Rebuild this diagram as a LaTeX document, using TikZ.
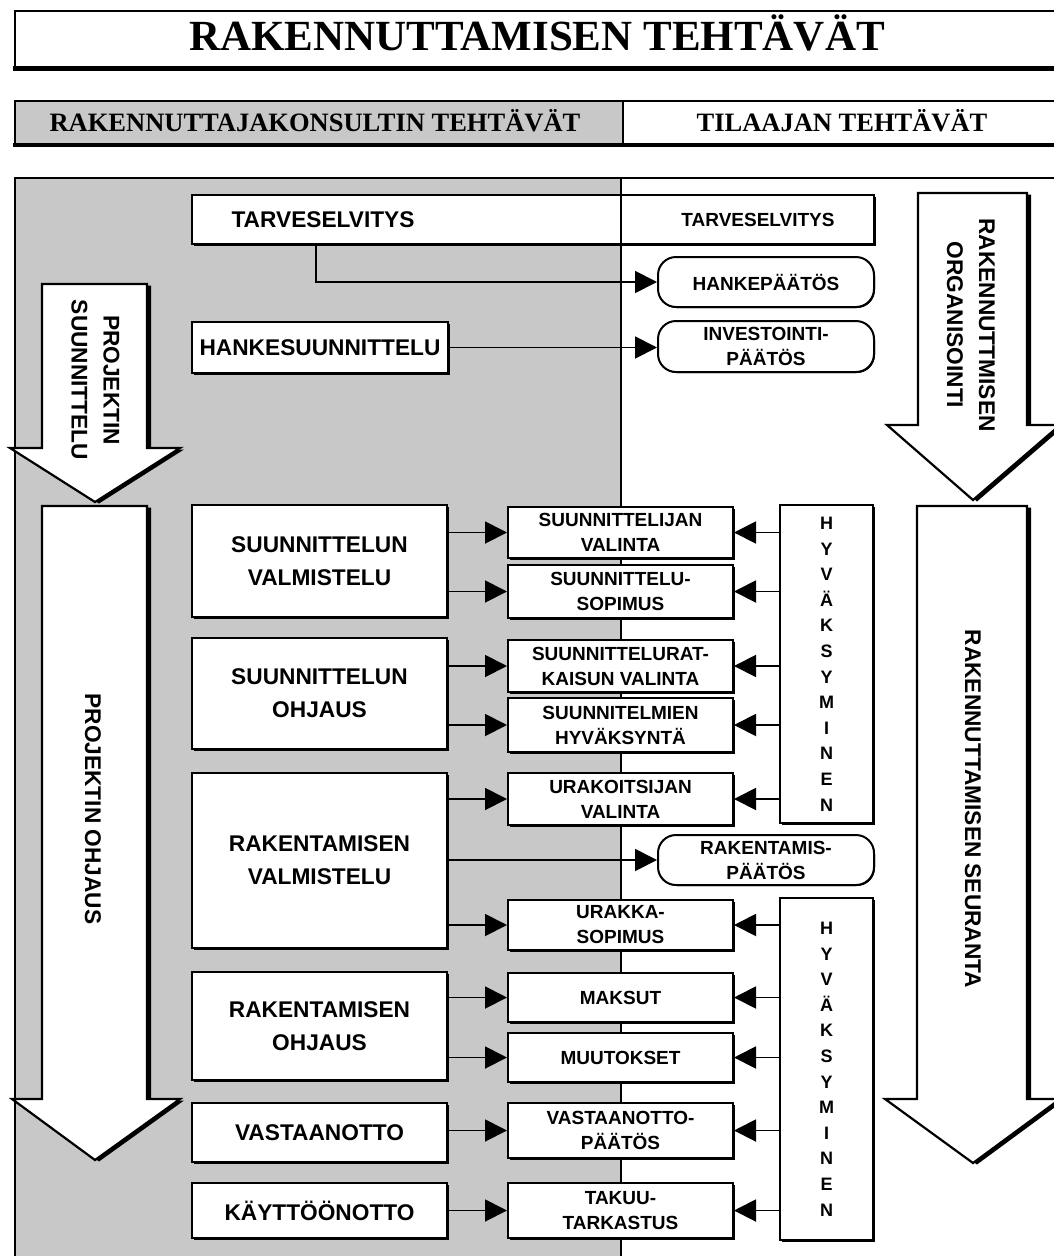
\documentclass[tikz,border=0pt]{standalone}
\usepackage{fontspec}
\setmainfont{Liberation Sans}
\newfontfamily\serifbf{Liberation Serif}
\usetikzlibrary{arrows.meta,shadows}
\definecolor{panelgray}{RGB}{200,200,200}
\newcommand\fL{\fontsize{22.7}{33}\selectfont\bfseries}
\newcommand\fA{\fontsize{22.7}{32}\selectfont\bfseries}
\newcommand\fS{\fontsize{19}{25}\selectfont\bfseries}
\newcommand\fH{\fontsize{18}{25.6}\selectfont\bfseries}
\newcommand\bx[7]{\node[#1, minimum width={(#5-#3)*1pt}, minimum height={(#6-#4)*1pt}] (#2) at ({(#3+#5)/2},{(#4+#6)/2}) {#7};}
\begin{document}
\begin{tikzpicture}[x=1pt,y=-1pt,
 shd/.style={drop shadow={shadow xshift=#1,shadow yshift=-#1,fill=black,opacity=1}},
 shd/.default=1.5pt,
 lbox/.style={draw,line width=2.2pt,fill=white,shd,align=center,font=\fL,inner sep=0pt},
 sbox/.style={draw,line width=2pt,fill=white,shd,align=center,font=\fS,inner sep=0pt},
 rbox/.style={draw,line width=2pt,fill=white,shd=1pt,align=center,font=\fS,inner sep=0pt,rounded corners=18pt},
 hbox/.style={draw,line width=2.2pt,fill=white,shd,align=center,font=\fH,inner sep=0pt},
 conn/.style={line width=1.9pt,-{Triangle[length=22pt,width=22pt]}},
 bigarrow/.style={draw,line width=2.2pt,fill=white,line join=miter,drop shadow={shadow xshift=4pt,shadow yshift=-1.5pt,fill=black,opacity=1}},
 atext/.style={rotate=-90,align=center,font=\fA,inner sep=0pt},
 frame/.style={line width=2pt}]
\useasboundingbox (0,0) rectangle (1054,1256);
\clip (0,0) rectangle (1054,1256);
\fill[white] (0,0) rectangle (1054,1256);

% title
\draw[frame,fill=white] (15,11) rectangle (1070,67);
\draw[line width=5pt] (13,68.5) -- (1070,68.5);
\node[font=\serifbf\bfseries\fontsize{43}{43}\selectfont,anchor=base,inner sep=0pt] (title) at (537,50) {RAKENNUTTAMISEN TEHTÄVÄT};

% header bar
\fill[panelgray] (15,101) rectangle (623,144);
\draw[frame] (15,101) rectangle (1070,144);
\draw[line width=4.5pt] (13,145) -- (1070,145);
\draw[line width=1.8pt] (623,101) -- (623,144);
\node[font=\serifbf\bfseries\fontsize{26.5}{26.5}\selectfont,anchor=base,inner sep=0pt] (hdrl) at (315,131) {RAKENNUTTAJAKONSULTIN TEHTÄVÄT};
\node[font=\serifbf\bfseries\fontsize{26.5}{26.5}\selectfont,anchor=base,inner sep=0pt] (hdrr) at (842,131) {TILAAJAN TEHTÄVÄT};

% panel
\fill[panelgray] (15,178) rectangle (621,1260);
\draw[frame] (15,1260) -- (15,178) -- (1070,178);
\draw[line width=1.5pt] (621,178) -- (621,1260);

% big arrows
\draw[bigarrow] (42,284) -- (147,284) -- (147,448) -- (180,448) -- (95,502) -- (10,448) -- (42,448) -- cycle;
\draw[bigarrow] (42,506) -- (147,506) -- (147,1099) -- (180,1099) -- (95,1160) -- (12,1099) -- (42,1099) -- cycle;
\draw[bigarrow] (918,193) -- (1027,193) -- (1027,425) -- (1060,425) -- (973,500) -- (887,425) -- (918,425) -- cycle;
\draw[bigarrow] (917,506) -- (1027,506) -- (1027,1099) -- (1060,1099) -- (973,1163) -- (885,1099) -- (917,1099) -- cycle;
\node[atext] (pstext) at (95.5,380) {PROJEKTIN\\SUUNNITTELU};
\node[atext] (potext) at (93,809) {PROJEKTIN OHJAUS};
\node[atext] (rotext) at (971,325) {RAKENNUTTMISEN\\ORGANISOINTI};
\node[atext] (rstext) at (973,809) {RAKENNUTTAMISEN SEURANTA};

% top boxes
\bx{lbox}{tv}{192}{195}{874}{244}{}
\draw[line width=1.5pt] (621,196) -- (621,243);
\node[font=\fL,inner sep=0pt] (tvl) at (323,220) {TARVESELVITYS};
\node[font=\fS,inner sep=0pt] (tvr) at (758,220) {TARVESELVITYS};
\bx{rbox}{hp}{658}{257}{874}{307}{HANKEPÄÄTÖS}
\bx{rbox}{ip}{658}{321}{874}{372}{INVESTOINTI-\\PÄÄTÖS}
\bx{lbox}{hs}{192}{322}{448}{373}{HANKESUUNNITTELU}

% left column
\bx{lbox}{sv}{192}{505}{447}{617}{SUUNNITTELUN\\VALMISTELU}
\bx{lbox}{so}{192}{638}{447}{749}{SUUNNITTELUN\\OHJAUS}
\bx{lbox}{rv}{192}{773}{447}{948}{RAKENTAMISEN\\VALMISTELU}
\bx{lbox}{ro}{192}{972}{447}{1080}{RAKENTAMISEN\\OHJAUS}
\bx{lbox}{va}{192}{1103}{447}{1162}{VASTAANOTTO}
\bx{lbox}{ko}{192}{1183}{447}{1238}{KÄYTTÖÖNOTTO}

% middle column
\bx{sbox}{b1}{508}{507}{733}{558}{SUUNNITTELIJAN\\VALINTA}
\bx{sbox}{b2}{508}{565}{733}{618}{SUUNNITTELU-\\SOPIMUS}
\bx{sbox}{b3}{508}{640}{733}{692}{SUUNNITTELURAT-\\KAISUN VALINTA}
\bx{sbox}{b4}{508}{698}{733}{752}{SUUNNITELMIEN\\HYVÄKSYNTÄ}
\bx{sbox}{b5}{508}{773}{733}{825}{URAKOITSIJAN\\VALINTA}
\bx{rbox}{rp}{658}{835}{874}{885}{RAKENTAMIS-\\PÄÄTÖS}
\bx{sbox}{b6}{508}{900}{733}{950}{URAKKA-\\SOPIMUS}
\bx{sbox}{b7}{508}{973}{733}{1022}{MAKSUT}
\bx{sbox}{b8}{508}{1033}{733}{1082}{MUUTOKSET}
\bx{sbox}{b9}{508}{1103}{733}{1158}{VASTAANOTTO-\\PÄÄTÖS}
\bx{sbox}{b10}{508}{1183}{733}{1238}{TAKUU-\\TARKASTUS}

% approval boxes
\bx{hbox}{hy1}{780}{505}{873}{823}{H\\Y\\V\\Ä\\K\\S\\Y\\M\\I\\N\\E\\N}
\bx{hbox}{hy2}{780}{898}{873}{1240}{H\\Y\\V\\Ä\\K\\S\\Y\\M\\I\\N\\E\\N}

% connectors
\coordinate (tvdrop) at (316,244);
\draw[conn] (tvdrop) |- (hp.west);
\draw[conn] (hs.east) -- (hs.east -| ip.west);
\draw[conn] (sv.east |- b1.west) -- (b1.west);
\draw[conn] (sv.east |- b2.west) -- (b2.west);
\draw[conn] (so.east |- b3.west) -- (b3.west);
\draw[conn] (so.east |- b4.west) -- (b4.west);
\draw[conn] (rv.east |- b5.west) -- (b5.west);
\draw[conn] (rv.east |- rp.west) -- (rp.west);
\draw[conn] (rv.east |- b6.west) -- (b6.west);
\draw[conn] (ro.east |- b7.west) -- (b7.west);
\draw[conn] (ro.east |- b8.west) -- (b8.west);
\draw[conn] (va.east |- b9.west) -- (b9.west);
\draw[conn] (ko.east |- b10.west) -- (b10.west);
\draw[conn] (hy1.west |- b1.east) -- (b1.east);
\draw[conn] (hy1.west |- b2.east) -- (b2.east);
\draw[conn] (hy1.west |- b3.east) -- (b3.east);
\draw[conn] (hy1.west |- b4.east) -- (b4.east);
\draw[conn] (hy1.west |- b5.east) -- (b5.east);
\draw[conn] (hy2.west |- b6.east) -- (b6.east);
\draw[conn] (hy2.west |- b7.east) -- (b7.east);
\draw[conn] (hy2.west |- b8.east) -- (b8.east);
\draw[conn] (hy2.west |- b9.east) -- (b9.east);
\draw[conn] (hy2.west |- b10.east) -- (b10.east);
\end{tikzpicture}
\end{document}
